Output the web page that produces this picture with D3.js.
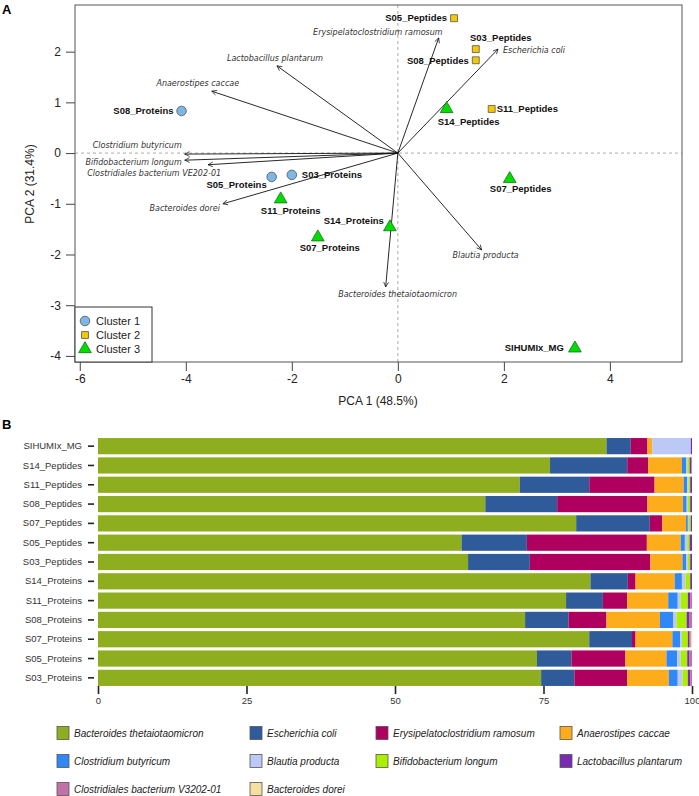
<!DOCTYPE html>
<html>
<head>
<meta charset="utf-8">
<script src="https://cdn.jsdelivr.net/npm/d3@7"></script>
<style>
  body { margin: 0; background: #fff; }
  svg text { font-family: Arial, "Liberation Sans", sans-serif; }
</style>
</head>
<body>
<svg id="fig" width="699" height="796"></svg>
<script>
// ---- panel A: PCA scores ----
const sampleNames = ["S08_Proteins", "S05_Proteins", "S03_Proteins", "S05_Peptides", "S03_Peptides",
  "S08_Peptides", "S11_Peptides", "S14_Peptides", "S07_Peptides", "S11_Proteins", "S07_Proteins",
  "S14_Proteins", "SIHUMIx_MG"];
const pc1 = [-4.08, -2.38, -2.0, 1.06, 1.47, 1.47, 1.77, 0.92, 2.11, -2.21, -1.51, -0.15, 3.34];
const pc2 = [0.83, -0.47, -0.43, 2.66, 2.05, 1.83, 0.87, 0.87, -0.51, -0.91, -1.66, -1.46, -3.85];
const cluster = [1, 1, 1, 2, 2, 2, 2, 3, 3, 3, 3, 3, 3];

// ---- panel A: species loadings (arrows) ----
const loadNames = ["Erysipelatoclostridium ramosum", "Escherichia coli", "Lactobacillus plantarum",
  "Anaerostipes caccae", "Clostridium butyricum", "Bifidobacterium longum",
  "Clostridiales bacterium VE202-01", "Bacteroides dorei", "Blautia producta",
  "Bacteroides thetaiotaomicron"];
const load1 = [0.77, 1.89, -2.28, -3.51, -4.02, -4.02, -3.58, -3.3, 1.58, -0.23];
const load2 = [2.27, 2.05, 1.72, 1.22, -0.02, -0.14, -0.23, -1.0, -1.91, -2.64];

const xTicksA = [-6, -4, -2, 0, 2, 4];
const yTicksA = [-4, -3, -2, -1, 0, 1, 2];
const clusterLabels = ["Cluster 1", "Cluster 2", "Cluster 3"];

// ---- panel B: relative abundance ----
const barSamples = ["SIHUMIx_MG", "S14_Peptides", "S11_Peptides", "S08_Peptides", "S07_Peptides",
  "S05_Peptides", "S03_Peptides", "S14_Proteins", "S11_Proteins", "S08_Proteins", "S07_Proteins",
  "S05_Proteins", "S03_Proteins"];
const species = ["Bacteroides thetaiotaomicron", "Escherichia coli", "Erysipelatoclostridium ramosum",
  "Anaerostipes caccae", "Clostridium butyricum", "Blautia producta", "Bifidobacterium longum",
  "Lactobacillus plantarum", "Clostridiales bacterium V3202-01", "Bacteroides dorei"];
// one row per sample, columns in species order
const abundance = [
  [85.6, 4.1, 2.8, 0.8, 0.0, 6.5, 0.0, 0.2, 0.0, 0.0],
  [76.1, 13.0, 3.5, 5.7, 0.7, 0.2, 0.4, 0.3, 0.1, 0.0],
  [71.0, 11.7, 11.0, 4.9, 0.6, 0.2, 0.3, 0.3, 0.0, 0.0],
  [65.2, 12.1, 15.2, 6.0, 0.6, 0.2, 0.4, 0.3, 0.0, 0.0],
  [80.5, 12.4, 2.1, 4.0, 0.3, 0.2, 0.3, 0.2, 0.0, 0.0],
  [61.2, 11.0, 20.2, 5.7, 0.7, 0.4, 0.4, 0.4, 0.0, 0.0],
  [62.3, 10.4, 20.3, 5.4, 0.6, 0.3, 0.4, 0.3, 0.0, 0.0],
  [82.9, 6.3, 1.3, 6.6, 1.2, 0.6, 0.8, 0.3, 0.0, 0.0],
  [78.8, 6.2, 4.1, 6.9, 1.6, 0.5, 1.2, 0.4, 0.3, 0.0],
  [71.9, 7.3, 6.4, 9.0, 2.2, 0.6, 1.7, 0.5, 0.4, 0.0],
  [82.7, 7.2, 0.6, 6.2, 1.3, 0.3, 1.0, 0.3, 0.2, 0.2],
  [73.9, 5.8, 9.1, 6.9, 1.8, 0.6, 1.1, 0.4, 0.4, 0.0],
  [74.6, 5.6, 8.9, 7.0, 1.5, 0.8, 0.9, 0.4, 0.3, 0.0]
];
const xTicksB = [0, 25, 50, 75, 100];

// styling / label placement (pixels)
const speciesColors = ["#8fae1f", "#2f5b9b", "#b0005f", "#fdad1c", "#2f88f6", "#bcc9f6",
  "#aaee00", "#7a2cb0", "#c270a8", "#f6dfa0"];
const clusterFill = { 1: "#7db7e6", 2: "#f6c800", 3: "#00dd00" };
const clusterStroke = { 1: "#555", 2: "#555", 3: "#1f6a1f" };
// [anchor, dx, dy] relative to marker
const sampleLabelPos = [["end", -8, 3], ["end", -5, 11], ["start", 10, 3], ["end", -7, 3],
  ["middle", 25, -8], ["end", -7, 4], ["start", 5, 3], ["middle", 22, 16], ["middle", 11, 13],
  ["middle", 10, 15], ["middle", 12, 14], ["end", -6, -3], ["end", -11, 3]];
const loadLabelPos = [["end", 4, -3], ["start", 5, 4], ["middle", -2, -5], ["middle", -14, -5],
  ["end", -3, -6], ["end", -3, 5], ["end", 13, 11], ["end", -3, 7], ["middle", 4, 8],
  ["middle", 12, 10]];

const svg = d3.select("#fig");
const plainNum = d => String(d);

// ================= Panel A =================
const x = d3.scaleLinear().domain([-6.09, 5.36]).range([75, 682]);
const y = d3.scaleLinear().domain([-4.12, 2.92]).range([362, 5]);

const gA = svg.append("g");

// zero reference lines
gA.append("line").attr("x1", x(0)).attr("x2", x(0)).attr("y1", y.range()[1]).attr("y2", y.range()[0])
  .attr("stroke", "#aaa").attr("stroke-dasharray", "3,3");
gA.append("line").attr("x1", x.range()[0]).attr("x2", x.range()[1]).attr("y1", y(0)).attr("y2", y(0))
  .attr("stroke", "#aaa").attr("stroke-dasharray", "3,3");

// axes
const axL = gA.append("g").attr("transform", "translate(75,0)")
  .call(d3.axisLeft(y).tickValues(yTicksA).tickFormat(plainNum).tickSize(9).tickPadding(5));
const axB = gA.append("g").attr("transform", "translate(0,362)")
  .call(d3.axisBottom(x).tickValues(xTicksA).tickFormat(plainNum).tickSize(9).tickPadding(3));
[axL, axB].forEach(a => {
  a.select(".domain").remove();
  a.selectAll("line").attr("stroke", "#444");
  a.selectAll("text").attr("font-size", 12).attr("fill", "#222")
    .attr("font-family", "Arial, 'Liberation Sans', sans-serif");
});

// box
gA.append("rect").attr("x", 75).attr("y", 5).attr("width", 607).attr("height", 357)
  .attr("fill", "none").attr("stroke", "#555");

gA.append("text").attr("x", 378).attr("y", 405).attr("text-anchor", "middle")
  .attr("font-size", 12).attr("fill", "#222").text("PCA 1 (48.5%)");
gA.append("text").attr("transform", "translate(34,184) rotate(-90)").attr("text-anchor", "middle")
  .attr("font-size", 12).attr("fill", "#222").text("PCA 2 (31.4%)");

// arrows
svg.append("defs").append("marker")
  .attr("id", "head").attr("viewBox", "0 0 10 10").attr("refX", 9).attr("refY", 5)
  .attr("markerWidth", 6).attr("markerHeight", 6).attr("markerUnits", "userSpaceOnUse")
  .attr("orient", "auto")
  .append("path").attr("d", "M1,1 L9,5 L1,9").attr("fill", "none").attr("stroke", "#111").attr("stroke-width", 1.2);

const loadData = loadNames.map((n, i) => ({ name: n, a: load1[i], b: load2[i], pos: loadLabelPos[i] }));
gA.selectAll("line.arrow").data(loadData).join("line").attr("class", "arrow")
  .attr("x1", x(0)).attr("y1", y(0))
  .attr("x2", d => x(d.a)).attr("y2", d => y(d.b))
  .attr("stroke", "#111").attr("stroke-width", 0.9).attr("marker-end", "url(#head)");
gA.selectAll("text.load").data(loadData).join("text").attr("class", "load")
  .attr("x", d => x(d.a) + d.pos[1]).attr("y", d => y(d.b) + d.pos[2])
  .attr("text-anchor", d => d.pos[0])
  .style("font-family", "'DejaVu Sans', Verdana, sans-serif").style("font-style", "italic")
  .attr("font-size", 8).attr("fill", "#333").text(d => d.name);

// points
const pts = sampleNames.map((n, i) => ({ name: n, a: pc1[i], b: pc2[i], c: cluster[i], pos: sampleLabelPos[i] }));
const shapeFor = c => c === 1 ? d3.symbolCircle : c === 2 ? d3.symbolSquare : d3.symbolTriangle;
const sizeFor = c => c === 1 ? 72 : c === 2 ? 48 : 70;
function drawSymbols(sel) {
  sel.attr("d", d => d3.symbol().type(shapeFor(d.c)).size(sizeFor(d.c))())
    .attr("fill", d => clusterFill[d.c]).attr("stroke", d => clusterStroke[d.c]).attr("stroke-width", 0.8);
}
gA.selectAll("path.pt").data(pts).join("path").attr("class", "pt")
  .attr("transform", d => `translate(${x(d.a)},${y(d.b)})`).call(drawSymbols);
gA.selectAll("text.pt").data(pts).join("text").attr("class", "pt")
  .attr("x", d => x(d.a) + d.pos[1]).attr("y", d => y(d.b) + d.pos[2])
  .attr("text-anchor", d => d.pos[0]).attr("font-size", 9.5).attr("font-weight", "bold")
  .attr("fill", "#111").text(d => d.name);

// cluster legend
const lg = gA.append("g");
lg.append("rect").attr("x", 75).attr("y", 307).attr("width", 77).attr("height", 55)
  .attr("fill", "#fff").attr("stroke", "#333");
const lgItems = clusterLabels.map((t, i) => ({ t: t, c: i + 1 }));
lg.selectAll("path").data(lgItems).join("path")
  .attr("transform", (d, i) => `translate(85,${321 + i * 14})`).call(drawSymbols);
lg.selectAll("text").data(lgItems).join("text")
  .attr("x", 96).attr("y", (d, i) => 325 + i * 14).attr("font-size", 11).attr("fill", "#222")
  .text(d => d.t);

svg.append("text").attr("x", 2).attr("y", 14).attr("font-size", 13).attr("font-weight", "bold").text("A");

// ================= Panel B =================
svg.append("text").attr("x", 2).attr("y", 429).attr("font-size", 13).attr("font-weight", "bold").text("B");

const xb = d3.scaleLinear().domain([0, 100]).range([98, 692]);
const yb = d3.scaleBand().domain(barSamples).range([436.5, 687.5]).paddingInner(0.16).paddingOuter(0.08);

const rows = barSamples.map((s, i) => {
  const o = { sample: s };
  species.forEach((sp, j) => o[sp] = abundance[i][j]);
  return o;
});
const stacked = d3.stack().keys(species)(rows);

const gB = svg.append("g");
gB.selectAll("g.layer").data(stacked).join("g").attr("class", "layer")
  .attr("fill", (d, i) => speciesColors[i])
  .selectAll("rect").data(d => d).join("rect")
  .attr("x", d => xb(d[0])).attr("width", d => Math.max(0, xb(d[1]) - xb(d[0])))
  .attr("y", d => yb(d.data.sample)).attr("height", yb.bandwidth());

const byAx = gB.append("g").attr("transform", "translate(94,0)")
  .call(d3.axisLeft(yb).tickSize(6).tickPadding(6));
byAx.select(".domain").remove();
byAx.selectAll("line").attr("stroke", "#222").attr("stroke-width", 1.6);
byAx.selectAll("text").attr("font-size", 9.5).attr("fill", "#333");

const bxAx = gB.append("g").attr("transform", "translate(0,686)")
  .call(d3.axisBottom(xb).tickValues(xTicksB).tickFormat(plainNum).tickSize(8).tickPadding(3));
bxAx.select(".domain").remove();
bxAx.selectAll("line").attr("stroke", "#222").attr("stroke-width", 1.6);
bxAx.selectAll("text").attr("font-size", 9.5).attr("fill", "#333");

// species legend (4 columns)
const legCols = [57, 250, 376, 560];
const legRows = [733, 761, 789];
const sl = gB.selectAll("g.leg").data(species).join("g").attr("class", "leg")
  .attr("transform", (d, i) => `translate(${legCols[i % 4]},${legRows[Math.floor(i / 4)]})`);
sl.append("rect").attr("x", 0).attr("y", -6.5).attr("width", 12).attr("height", 13)
  .attr("fill", (d, i) => speciesColors[i]).attr("stroke", "#555").attr("stroke-width", 0.8);
sl.append("text").attr("x", 17).attr("y", 3.5).attr("font-size", 10).style("font-style", "italic")
  .attr("fill", "#222").text(d => d);
</script>
</body>
</html>
